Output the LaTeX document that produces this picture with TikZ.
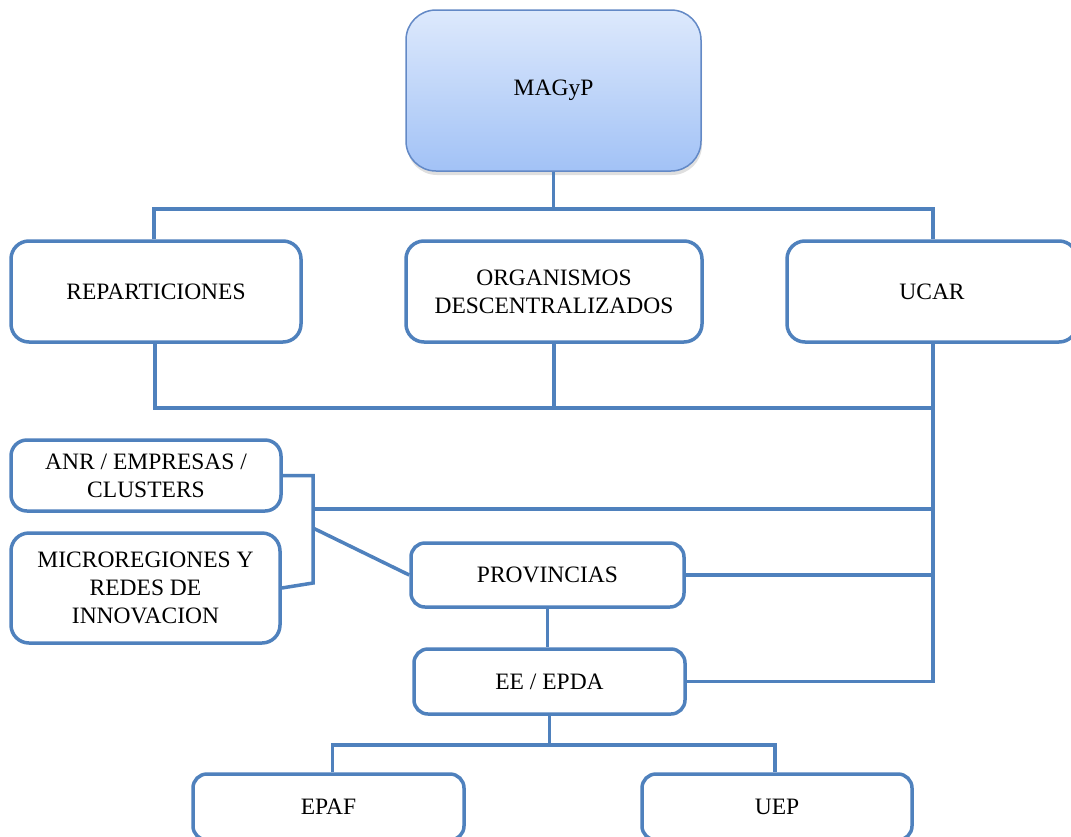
\documentclass[tikz,border=0pt]{standalone}
\usepackage{fontspec}
\setmainfont{Liberation Serif}
\usetikzlibrary{shadows}
\definecolor{ln}{HTML}{4F81BD}
\definecolor{topc}{HTML}{DDE9FC}
\definecolor{botc}{HTML}{A2C2F6}
\definecolor{mb}{HTML}{6389C6}
\begin{document}
\begin{tikzpicture}[x=1pt,y=-1pt,
  box/.style={draw=ln, line width=3.5pt, rounded corners=18pt, fill=white,
    align=center, inner sep=0pt, font=\fontsize{23.5}{28}\selectfont},
  conn/.style={draw=ln, line width=3.5pt}]
\clip (0,0) rectangle (1071,836);
\fill[white] (0,0) rectangle (1071,836);
\coordinate (t) at (553,209);
\coordinate (b) at (553,408);
\coordinate (br) at (313,476);
\coordinate (h1) at (313,509);
\coordinate (d1) at (313,528);
\coordinate (bk) at (313,583);
\coordinate (bb) at (553,745);
% nodes
\node[draw=mb, line width=1.5pt, rounded corners=30pt, top color=topc, bottom color=botc,
  minimum width=295pt, minimum height=161pt, font=\fontsize{23.5}{28}\selectfont,
  drop shadow={opacity=0.25, shadow xshift=1pt, shadow yshift=-4pt}] (magyp) at (553.5,90.5) {MAGyP};
\node[box, minimum width=290pt, minimum height=101pt] (rep) at (156,291.5) {REPARTICIONES};
\node[box, minimum width=296pt, minimum height=101pt] (org) at (554,291.5) {ORGANISMOS\\DESCENTRALIZADOS};
\node[box, minimum width=290pt, minimum height=101pt] (ucar) at (932,291.5) {UCAR};
\node[box, minimum width=270pt, minimum height=71pt, rounded corners=16pt] (anr) at (146,475.5) {ANR / EMPRESAS /\\CLUSTERS};
\node[box, minimum width=269pt, minimum height=110pt] (micro) at (145.5,588) {MICROREGIONES Y\\REDES DE\\INNOVACION};
\node[box, minimum width=273pt, minimum height=64pt, rounded corners=14pt] (prov) at (547.5,575) {PROVINCIAS};
\node[box, minimum width=271pt, minimum height=65pt, rounded corners=14pt] (ee) at (549.5,681.5) {EE / EPDA};
\node[box, minimum width=271pt, minimum height=66pt, rounded corners=14pt] (epaf) at (328.5,807) {EPAF};
\node[box, minimum width=270pt, minimum height=66pt, rounded corners=14pt] (uep) at (777,807) {UEP};
% connectors
\draw[conn] (magyp.south) -- (magyp.south |- t);
\draw[conn] ([xshift=-2pt]rep.north) -- ([xshift=-2pt]rep.north |- t) -- ([xshift=1pt]ucar.north |- t) -- ([xshift=1pt]ucar.north);
\draw[conn] ([xshift=-1pt]rep.south) -- ([xshift=-1pt]rep.south |- b) -- ([xshift=1pt]ucar.south |- b);
\draw[conn] (org.south) -- (org.south |- b);
\draw[conn] ([xshift=1pt]ucar.south) -- ([xshift=1pt]ucar.south |- ee.east) -- (ee.east);
\draw[conn] (prov.east) -- ([xshift=1pt]prov.east -| ucar.south);
\draw[conn] (h1) -- ([xshift=1pt]h1 -| ucar.south);
\draw[conn] (anr.east) -- (anr.east -| br) -- (bk) -- (micro.east);
\draw[conn] (d1) -- (prov.west);
\draw[conn] (prov.south) -- (prov.south |- ee.north);
\draw[conn] (ee.south) -- (ee.south |- bb);
\draw[conn] ([xshift=4pt]epaf.north) -- ([xshift=4pt]epaf.north |- bb) -- ([xshift=-2pt]uep.north |- bb) -- ([xshift=-2pt]uep.north);
\end{tikzpicture}
\end{document}
